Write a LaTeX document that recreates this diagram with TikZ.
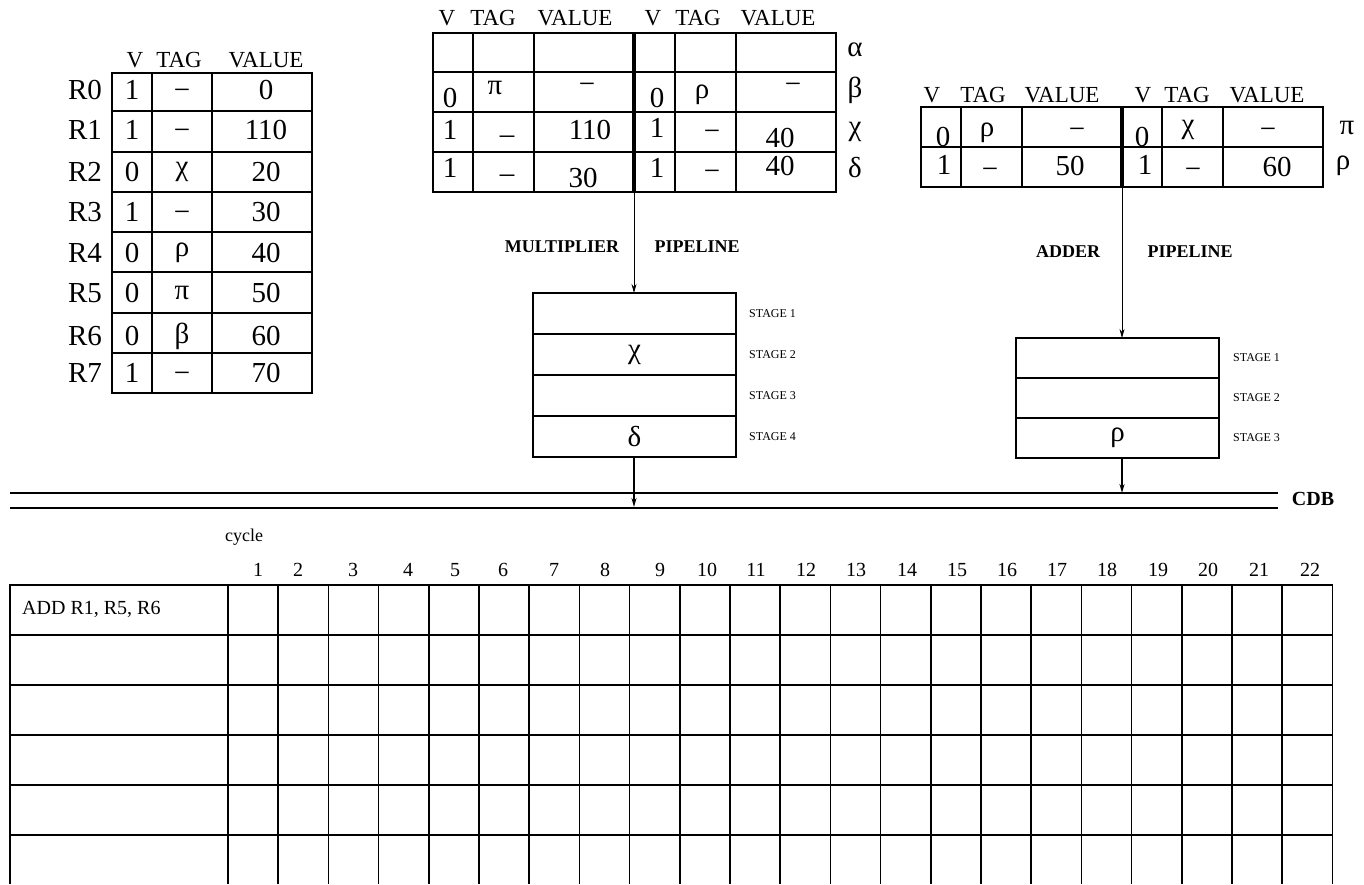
\documentclass[tikz,border=0pt]{standalone}
\usepackage{fontspec}
\setmainfont{Liberation Serif}
\usetikzlibrary{arrows.meta,positioning,calc}

\begin{document}
\begin{tikzpicture}[
        x=1pt, y=-1pt,
        every node/.style={inner sep=0pt},
        val/.style={font=\fontsize{29}{29}\selectfont},
        minus/.style={val, text height=18pt, text depth=0pt},
        hdr/.style={font=\fontsize{23}{23}\selectfont},
        pipelbl/.style={font=\fontsize{18}{18}\selectfont\bfseries},
        stagelbl/.style={font=\fontsize{12}{12}\selectfont, anchor=west},
        small/.style={font=\fontsize{20}{20}\selectfont},
        cell/.style={line width=1.2pt},
        sep/.style={line width=3.5pt},
        bus/.style={line width=2pt},
        gridline/.style={line width=1.5pt},
        stagebox/.style={draw, line width=1.2pt, outer sep=0pt, minimum width=203pt, minimum height=40pt,
                         font=\fontsize{29}{29}\selectfont},
        arrow/.style={-{Stealth[length=9pt,width=5pt]}, line width=0.8pt},
        outarrow/.style={-{Stealth[length=9pt,width=5pt]}, line width=1.8pt}
    ]

    \useasboundingbox (0,0) rectangle (1364,884);

    % register file
    \draw[cell] (112,73) rectangle (312,393);
    \foreach \y in {111,152,192,232,272,313,353} \draw[cell] (112,\y) -- (312,\y);
    \foreach \x in {152,212} \draw[cell] (\x,73) -- (\x,393);
    \node[hdr] (regv) at (135,60) {V};
    \node[hdr] (regtag) at (179,60) {TAG};
    \node[hdr] (regval) at (266,60) {VALUE};
    \foreach \n/\yy/\vb/\tg/\ts/\vl in {R0/90/1/−/minus/0, R1/130/1/−/minus/110, R2/172/0/χ/val/20,
                                         R3/212/1/−/minus/30, R4/253/0/ρ/val/40, R5/293/0/π/val/50,
                                         R6/336/0/β/val/60, R7/373/1/−/minus/70} {
        \node[val] (\n) at (85,\yy) {\n};
        \node[val] (\n-v) at (132,\yy) {\vb};
        \node[\ts] (\n-t) at (182,\yy) {\tg};
        \node[val] (\n-d) at (266,\yy) {\vl};
    }

    % multiplier reservation stations
    \draw[cell] (433,33) rectangle (836,192);
    \foreach \y in {72,112,152} \draw[cell] (433,\y) -- (836,\y);
    \foreach \x in {473,534,675,736} \draw[cell] (\x,33) -- (\x,192);
    \draw[sep] (634,33) -- (634,192);
    \foreach \x/\t [count=\i] in {447/V, 493/TAG, 575/VALUE, 653/V, 698/TAG, 778/VALUE}
        \node[hdr] (mulh\i) at (\x,18) {\t};
    \node[val] (ma) at (855,50) {α};
    \node[val] (mb) at (855,90) {β};
    \node[val] (mc) at (855,132) {χ};
    \node[val] (md) at (855,168) {δ};
    \node[val] (mb1) at (450,98) {0};
    \node[val] (mb2) at (495,88) {π};
    \node[minus] (mb3) at (587,84) {−};
    \node[val] (mb4) at (657,98) {0};
    \node[val] (mb5) at (702,95) {ρ};
    \node[minus] (mb6) at (793,84) {−};
    \node[val] (mc1) at (450,130) {1};
    \node[minus] (mc2) at (507,134) {–};
    \node[val] (mc3) at (590,130) {110};
    \node[val] (mc4) at (657,128) {1};
    \node[minus] (mc5) at (712,131) {−};
    \node[val] (mc6) at (780,138) {40};
    \node[val] (md1) at (450,168) {1};
    \node[minus] (md2) at (507,173) {–};
    \node[val] (md3) at (583,178) {30};
    \node[val] (md4) at (657,168) {1};
    \node[minus] (md5) at (712,171) {−};
    \node[val] (md6) at (780,166) {40};
    \coordinate (mulrs) at (634,192);

    % adder reservation stations
    \draw[cell] (921,107) rectangle (1323,187);
    \draw[cell] (921,147) -- (1323,147);
    \foreach \x in {961,1022,1162,1223} \draw[cell] (\x,107) -- (\x,187);
    \draw[sep] (1122,107) -- (1122,187);
    \foreach \x/\t [count=\i] in {932/V, 983/TAG, 1062/VALUE, 1143/V, 1187/TAG, 1267/VALUE}
        \node[hdr] (addh\i) at (\x,95) {\t};
    \node[val] (api) at (1347,128) {π};
    \node[val] (arho) at (1343,166) {ρ};
    \node[val] (ap1) at (943,137) {0};
    \node[val] (ap2) at (987,133) {ρ};
    \node[minus] (ap3) at (1077,129) {−};
    \node[val] (ap4) at (1142,137) {0};
    \node[val] (ap5) at (1188,130) {χ};
    \node[minus] (ap6) at (1268,129) {−};
    \node[val] (ar1) at (944,165) {1};
    \node[minus] (ar2) at (990,169) {−};
    \node[val] (ar3) at (1070,166) {50};
    \node[val] (ar4) at (1145,165) {1};
    \node[minus] (ar5) at (1193,169) {−};
    \node[val] (ar6) at (1277,167) {60};
    \coordinate (addrs) at (1122,187);

    % multiplier pipeline
    \node[pipelbl] (multlbl) at (562,247) {MULTIPLIER};
    \node[pipelbl] (mplbl) at (697,247) {PIPELINE};
    \node[stagebox, minimum height=41pt] (m1) at (634.5,313.5) {};
    \node[stagebox, minimum height=41pt, below=0pt of m1] (m2) {χ};
    \node[stagebox, minimum height=41pt, below=0pt of m2] (m3) {};
    \node[stagebox, minimum height=41pt, below=0pt of m3] (m4) {δ};
    \foreach \i in {1,...,4}
        \node[stagelbl, right=13pt of m\i] (ms\i) {STAGE \i};

    % adder pipeline
    \node[pipelbl] (addlbl) at (1068,252) {ADDER};
    \node[pipelbl] (aplbl) at (1190,252) {PIPELINE};
    \node[stagebox] (a1) at (1117.5,358) {};
    \node[stagebox, below=0pt of a1] (a2) {};
    \node[stagebox, below=0pt of a2] (a3) {ρ};
    \foreach \i in {1,...,3}
        \node[stagelbl, right=14pt of a\i] (as\i) {STAGE \i};

    % common data bus
    \coordinate (cdbl1) at (10,493);
    \coordinate (cdbr1) at (1278,493);
    \coordinate (cdbl2) at (10,508);
    \coordinate (cdbr2) at (1278,508);
    \draw[bus] (cdbl1) -- (cdbr1);
    \draw[bus] (cdbl2) -- (cdbr2);
    \node[font=\fontsize{20}{20}\selectfont\bfseries] (cdb) at (1313,499) {CDB};
    \coordinate (mulcdb) at (634,507);
    \coordinate (addcdb) at (1122,493);

    \draw[arrow] (mulrs) -- (mulrs |- m1.north);
    \draw[arrow] (addrs) -- (addrs |- a1.north);
    \draw[outarrow] (mulcdb |- m4.south) -- (mulcdb);
    \draw[outarrow] (addcdb |- a3.south) -- (addcdb);

    % timing table
    \node[font=\fontsize{18}{18}\selectfont] (cycle) at (244,537) {cycle};
    \foreach \x [count=\i] in {258,298,353,408,455,503,554,605,660,707,756,806,
                               856,907,957,1007,1057,1107,1158,1208,1259,1310}
        \node[small] (cyc\i) at (\x,570) {\i};
    \draw[gridline] (10,884) -- (10,585) -- (1332.4,585) -- (1332.4,884);
    \foreach \y in {635,685,735,785,835} \draw[gridline] (10,\y) -- (1332.4,\y);
    \foreach \i in {0,...,21} \draw[gridline] (228+50.2*\i,585) -- (228+50.2*\i,884);
    \node[small, anchor=west] (instr) at (22,609) {ADD R1, R5, R6};

\end{tikzpicture}
\end{document}
